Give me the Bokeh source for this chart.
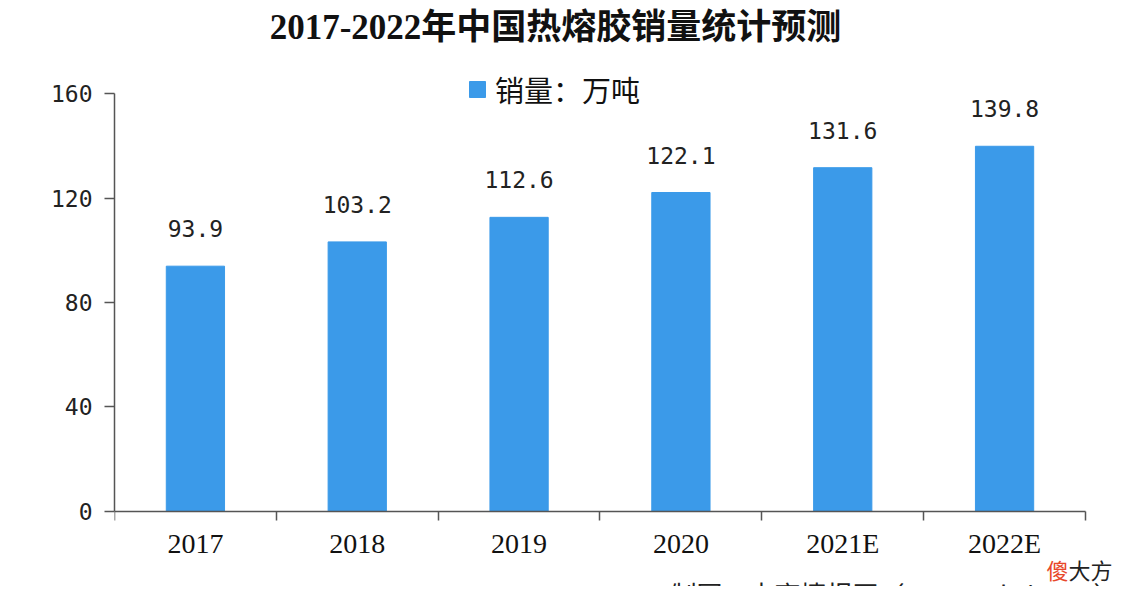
from bokeh.plotting import figure
from bokeh.models import ColumnDataSource, FixedTicker, Legend, LegendItem, Label, Range1d
from bokeh.core.properties import value
from bokeh.embed import file_html
from bokeh.resources import INLINE

years = ["2017", "2018", "2019", "2020", "2021E", "2022E"]
sales = [93.9, 103.2, 112.6, 122.1, 131.6, 139.8]
y_ticks = [0, 40, 80, 120, 160]
title_text = "2017-2022年中国热熔胶销量统计预测"
legend_text = "销量：万吨"
source_text = "制图：中商情报网（www.askci.com）"

xs = [i + 0.5 for i in range(len(years))]
labels = [f"{v:.1f}" for v in sales]
src = ColumnDataSource(dict(x=xs, top=sales, label=labels))

W, H = 1118, 586
p = figure(width=W, height=H, output_backend="svg", toolbar_location=None,
           x_range=Range1d(0, 6.204), y_range=Range1d(-28.71, 195.6),
           min_border_left=114, min_border_right=0, min_border_top=0,
           min_border_bottom=0)
p.title.text = ""

bars = p.vbar(x="x", top="top", width=0.36, source=src, color="#3b9ae9")

p.text(x="x", y="top", text="label", source=src, y_offset=-29,
       text_align="center", text_baseline="bottom",
       text_font=value("DejaVu Sans Mono"), text_font_size="23px",
       text_color="#222222")

p.grid.visible = False
p.outline_line_color = None
p.background_fill_color = "white"
p.border_fill_color = "white"

xa = p.xaxis[0]
xa.fixed_location = 0
xa.bounds = (0, 6)
xa.ticker = FixedTicker(ticks=xs, minor_ticks=list(range(len(years) + 1)))
xa.major_label_overrides = {x: y for x, y in zip(xs, years)}
xa.major_tick_out = 0
xa.major_tick_in = 0
xa.minor_tick_out = 9
xa.minor_tick_in = 0
xa.minor_tick_line_color = "#555555"
xa.minor_tick_line_width = 1.5
xa.axis_line_color = "#555555"
xa.axis_line_width = 1.5
xa.major_label_standoff = 8
xa.major_label_text_font = "Liberation Serif"
xa.major_label_text_font_size = "28px"
xa.major_label_text_color = "#111111"

ya = p.yaxis[0]
ya.bounds = (0, 160)
ya.ticker = FixedTicker(ticks=y_ticks)
ya.minor_tick_line_color = None
ya.major_tick_out = 10
ya.major_tick_in = 0
ya.major_tick_line_color = "#555555"
ya.major_tick_line_width = 1.5
ya.axis_line_color = "#555555"
ya.axis_line_width = 1.5
ya.major_label_standoff = 12
ya.major_label_text_font = "DejaVu Sans Mono"
ya.major_label_text_font_size = "23px"
ya.major_label_text_color = "#222222"

legend = Legend(items=[LegendItem(label=legend_text, renderers=[bars])],
                location=(353, 476), orientation="horizontal",
                glyph_width=20, glyph_height=20, label_standoff=8,
                padding=0, margin=0, border_line_color=None,
                background_fill_alpha=0,
                label_text_font="Noto Sans CJK SC", label_text_font_size="29px",
                label_text_color="#111111")
p.add_layout(legend, "center")

p.add_layout(Label(x=441, y=579, x_units="screen", y_units="screen", text=title_text,
                   text_align="center", text_baseline="top",
                   text_font="Liberation Serif, Noto Sans CJK SC", text_font_size="35px",
                   text_font_style="bold", text_color="#111111"))
p.add_layout(Label(x=932, y=34, x_units="screen", y_units="screen", text="傻",
                   text_baseline="top",
                   text_font="Noto Sans CJK SC", text_font_size="22px",
                   text_color="#e8472a"))
p.add_layout(Label(x=954, y=34, x_units="screen", y_units="screen", text="大方",
                   text_baseline="top",
                   text_font="Noto Sans CJK SC", text_font_size="22px",
                   text_color="#222222"))
p.add_layout(Label(x=556, y=12, x_units="screen", y_units="screen",
                   text=source_text, text_baseline="top",
                   text_font="Noto Sans CJK SC", text_font_size="26px",
                   text_color="#222222"))

open("out.html", "w").write(file_html(p, INLINE))
